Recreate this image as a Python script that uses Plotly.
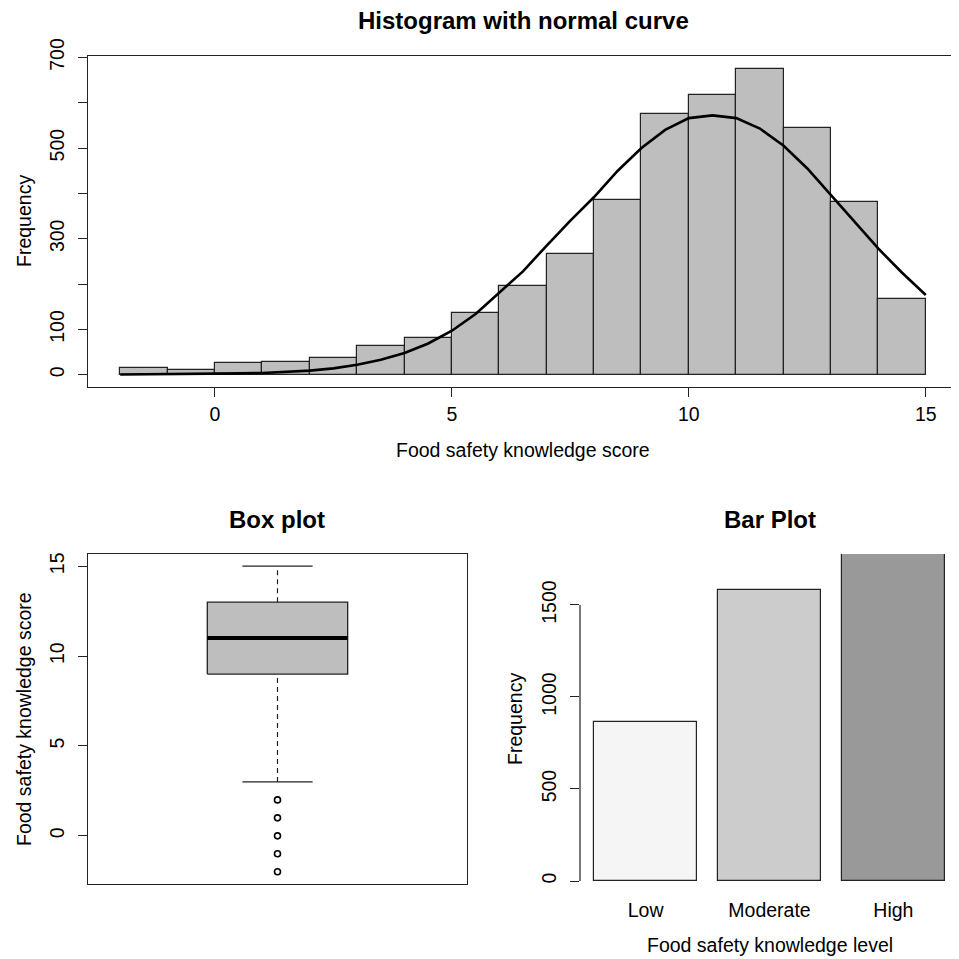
import plotly.graph_objects as go

# ---------------- data ----------------
hist_bin_left = list(range(-2, 15))          # bins of width 1 from -2 to 15
hist_counts = [15, 11, 27, 29, 36, 64, 80, 137, 196, 266, 386, 575, 618, 674, 545, 381, 167]

curve_x = [-2, -1.5, -1, -0.5, 0, 0.5, 1, 1.5, 2, 2.5, 3, 3.5, 4, 4.5, 5, 5.5, 6, 6.5,
           7, 7.5, 8, 8.5, 9, 9.5, 10, 10.5, 11, 11.5, 12, 12.5, 13, 13.5, 14, 14.5, 15]
curve_y = [0.5, 0.7, 1, 1.4, 2, 3, 4, 6, 9, 14, 22, 33, 48, 69, 97, 134, 180, 228,
           285, 340, 392, 450, 500, 540, 566, 572, 566, 543, 505, 455, 396, 337, 278, 225, 176]

box_q1, box_median, box_q3 = 9, 11, 13
box_lower_whisker, box_upper_whisker = 3, 15
box_outliers = [2, 1, 0, -1, -2]

bar_levels = ["Low", "Moderate", "High"]
bar_counts = [866, 1583, 1775]
bar_colors = ["#F5F5F5", "#CCCCCC", "#999999"]

hist_yticks = [0, 100, 200, 300, 400, 500, 600, 700]
hist_ytick_labels = ["0", "100", "", "300", "", "500", "", "700"]
hist_xticks = [0, 5, 10, 15]
box_yticks = [0, 5, 10, 15]
bar_yticks = [0, 500, 1000, 1500]

# ---------------- layout helpers ----------------
OFF = 8            # page body margin
FW = 951           # figure size so that figure + margin fills the 959 px window
FONT = "Liberation Sans, Arial, Helvetica, sans-serif"
LBL = 19.5
TTL = 24
EDGE = "#222222"


def px_x(p):
    return (p - OFF) / FW


def px_y(p):
    return 1 - (p - OFF) / FW


fig = go.Figure()

# ---- histogram ----
fig.add_trace(go.Bar(
    x=[b + 0.5 for b in hist_bin_left], y=hist_counts, width=1,
    marker=dict(color="#BEBEBE", line=dict(color=EDGE, width=1.2)),
    xaxis="x", yaxis="y", showlegend=False))
fig.add_trace(go.Scatter(
    x=curve_x, y=curve_y, mode="lines", line=dict(color="black", width=2.6),
    xaxis="x", yaxis="y", showlegend=False))

# ---- box plot ----
c, hw, sw = 1, 0.2, 0.1
fig.add_trace(go.Scatter(
    x=[c - hw, c + hw, c + hw, c - hw, c - hw],
    y=[box_q1, box_q1, box_q3, box_q3, box_q1],
    mode="lines", fill="toself", fillcolor="#BEBEBE",
    line=dict(color=EDGE, width=1.3), xaxis="x2", yaxis="y2", showlegend=False))
fig.add_trace(go.Scatter(
    x=[c - hw, c + hw], y=[box_median, box_median], mode="lines",
    line=dict(color="black", width=4), xaxis="x2", yaxis="y2", showlegend=False))
for lo, hi in [(box_lower_whisker, box_q1), (box_q3, box_upper_whisker)]:
    fig.add_trace(go.Scatter(
        x=[c, c], y=[lo, hi], mode="lines",
        line=dict(color=EDGE, width=1.2, dash="5px,4px"),
        xaxis="x2", yaxis="y2", showlegend=False))
for v in [box_lower_whisker, box_upper_whisker]:
    fig.add_trace(go.Scatter(
        x=[c - sw, c + sw], y=[v, v], mode="lines",
        line=dict(color=EDGE, width=1.3), xaxis="x2", yaxis="y2", showlegend=False))
fig.add_trace(go.Scatter(
    x=[c] * len(box_outliers), y=box_outliers, mode="markers",
    marker=dict(symbol="circle-open", size=6, color="black", line=dict(width=1.6)),
    xaxis="x2", yaxis="y2", showlegend=False))

# ---- bar plot ----
bar_pos = [0.7, 1.9, 3.1]
fig.add_trace(go.Bar(
    x=bar_pos, y=bar_counts, width=1,
    marker=dict(color=bar_colors, line=dict(color=EDGE, width=1.2)),
    xaxis="x3", yaxis="y3", showlegend=False))

axis_common = dict(showgrid=False, zeroline=False, ticks="outside", ticklen=9,
                   tickwidth=1.2, tickcolor=EDGE, linecolor=EDGE, linewidth=1.2,
                   automargin=False,
                   tickfont=dict(family=FONT, size=LBL, color="black"))

fig.update_layout(
    width=FW, height=FW, margin=dict(l=0, r=0, t=0, b=0, pad=0),
    plot_bgcolor="white", paper_bgcolor="white", bargap=0,
    xaxis=dict(domain=[px_x(88), px_x(958)], range=[-2.68, 15.68], tickvals=hist_xticks,
               showline=True, mirror=True, anchor="y", ticklabelstandoff=0, **axis_common),
    yaxis=dict(domain=[px_y(387), px_y(56)], range=[-27.04, 703.04], tickvals=hist_yticks,
               ticktext=hist_ytick_labels, tickangle=-90, showline=True, mirror=True,
               anchor="x", ticklabelstandoff=6, **axis_common),
    xaxis2=dict(domain=[px_x(88), px_x(467)], range=[0.46, 1.54], showticklabels=False,
                showline=True, mirror=True, anchor="y2",
                **{k: v for k, v in axis_common.items() if k != "ticks"}, ticks=""),
    yaxis2=dict(domain=[px_y(884), px_y(554)], range=[-2.68, 15.68], tickvals=box_yticks,
                tickangle=-90, showline=True, mirror=True, anchor="x2",
                ticklabelstandoff=6, **axis_common),
    xaxis3=dict(domain=[px_x(580), px_x(959)], range=[0.064, 3.736], tickvals=bar_pos,
                ticktext=bar_levels, showline=False, anchor="y3", ticklabelstandoff=0,
                **{k: v for k, v in axis_common.items() if k not in ("tickcolor",)},
                tickcolor="rgba(0,0,0,0)"),
    yaxis3=dict(domain=[px_y(884), px_y(554)], range=[-16.3, 1777], tickvals=bar_yticks,
                tickangle=-90, showline=False, anchor="x3", ticklabelstandoff=6,
                **axis_common),
)

# y-axis line of the bar plot spans only the tick range (as in R)
fig.add_shape(type="line", xref="paper", yref="y3",
              x0=px_x(580), x1=px_x(580), y0=min(bar_yticks), y1=max(bar_yticks),
              line=dict(color=EDGE, width=1.2))


def ann(text, x, y, size=LBL, bold=False, angle=0):
    fig.add_annotation(
        text=f"<b>{text}</b>" if bold else text, x=px_x(x), y=px_y(y),
        xref="paper", yref="paper", showarrow=False, textangle=angle,
        xanchor="center", yanchor="middle",
        font=dict(family=FONT, size=size, color="black"))


ann("Histogram with normal curve", 523, 20, TTL, True)
ann("Food safety knowledge score", 523, 450)
ann("Frequency", 24, 221, angle=-90)
ann("Box plot", 277, 519, TTL, True)
ann("Food safety knowledge score", 24, 719, angle=-90)
ann("Bar Plot", 770, 519, TTL, True)
ann("Frequency", 515, 719, angle=-90)
ann("Food safety knowledge level", 770, 945)

fig.write_html("out.html")
